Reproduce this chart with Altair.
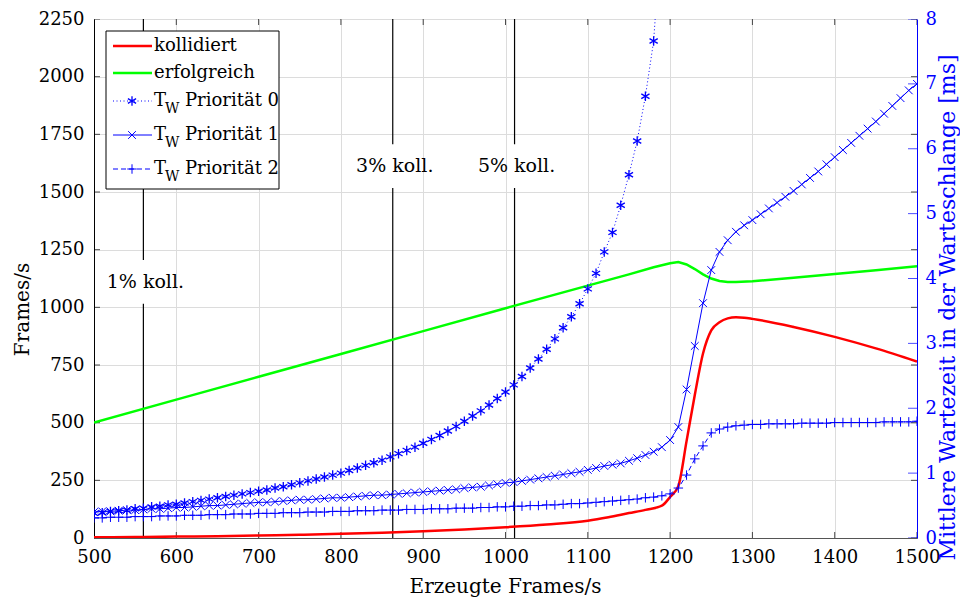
import altair as alt
import pandas as pd

FONT = "DejaVu Serif"
BLUE = "#0000ff"

# ---------------- data ----------------
x_ticks = [500, 600, 700, 800, 900, 1000, 1100, 1200, 1300, 1400, 1500]
yl_ticks = [0, 250, 500, 750, 1000, 1250, 1500, 1750, 2000, 2250]
yr_ticks = [0, 1, 2, 3, 4, 5, 6, 7, 8]

red_x = [500, 550, 600, 650, 700, 750, 800, 850, 900, 950, 1000, 1050, 1100, 1125, 1150,
         1170, 1190, 1200, 1210, 1220, 1230, 1240, 1250, 1260, 1270, 1280, 1290, 1300,
         1350, 1400, 1450, 1500]
red_v = [3, 4, 6, 8, 11, 14, 18, 23, 29, 37, 47, 59, 75, 90, 108,
         122, 140, 178, 225, 420, 620, 800, 900, 935, 952, 957, 955, 950,
         915, 872, 822, 765]

green_x = [500, 600, 700, 800, 900, 1000, 1100, 1150, 1180, 1200, 1210, 1220, 1230, 1240,
           1250, 1260, 1270, 1280, 1300, 1350, 1400, 1450, 1500]
green_v = [500, 600, 699, 798, 897, 996, 1094, 1143, 1174, 1191, 1196, 1186, 1166, 1143,
           1125, 1114, 1110, 1110, 1113, 1128, 1145, 1161, 1178]

p0_x = list(range(500, 1200, 10))
p0_v = [0.38, 0.39, 0.41, 0.42, 0.43, 0.45, 0.46, 0.48, 0.49, 0.51,
        0.52, 0.54, 0.56, 0.58, 0.60, 0.62, 0.64, 0.66, 0.68, 0.70,
        0.72, 0.74, 0.77, 0.79, 0.82, 0.85, 0.88, 0.91, 0.94, 0.97,
        1.00, 1.04, 1.08, 1.12, 1.16, 1.20, 1.25, 1.30, 1.35, 1.40,
        1.46, 1.52, 1.58, 1.65, 1.72, 1.80, 1.88, 1.96, 2.05, 2.15,
        2.25, 2.36, 2.49, 2.62, 2.76, 2.91, 3.07, 3.24, 3.41, 3.61,
        3.84, 4.08, 4.41, 4.71, 5.13, 5.60, 6.12, 6.81, 7.66, 9.50]

p_x = list(range(500, 1510, 10))
p1_v = [0.40, 0.41, 0.41, 0.42, 0.43, 0.43, 0.44, 0.45, 0.45, 0.46,
        0.47, 0.47, 0.48, 0.49, 0.50, 0.50, 0.51, 0.52, 0.53, 0.54,
        0.55, 0.55, 0.56, 0.57, 0.58, 0.59, 0.59, 0.60, 0.61, 0.62,
        0.62, 0.63, 0.64, 0.65, 0.66, 0.66, 0.67, 0.68, 0.69, 0.70,
        0.71, 0.72, 0.73, 0.74, 0.75, 0.77, 0.78, 0.79, 0.81, 0.83,
        0.85, 0.86, 0.88, 0.90, 0.92, 0.94, 0.96, 0.98, 1.00, 1.02,
        1.05, 1.08, 1.11, 1.13, 1.15, 1.19, 1.23, 1.28, 1.33, 1.40,
        1.51, 1.71, 2.29, 2.96, 3.62, 4.13, 4.41, 4.59, 4.72, 4.82,
        4.90, 4.99, 5.08, 5.17, 5.26, 5.35, 5.45, 5.55, 5.65, 5.76,
        5.87, 5.98, 6.09, 6.20, 6.31, 6.42, 6.54, 6.66, 6.78, 6.90,
        7.00]
p2_v = [0.31, 0.31, 0.32, 0.32, 0.32, 0.33, 0.33, 0.33, 0.34, 0.34,
        0.34, 0.35, 0.35, 0.35, 0.36, 0.36, 0.36, 0.37, 0.37, 0.37,
        0.38, 0.38, 0.38, 0.39, 0.39, 0.39, 0.40, 0.40, 0.40, 0.41,
        0.41, 0.41, 0.42, 0.42, 0.42, 0.43, 0.43, 0.43, 0.44, 0.44,
        0.44, 0.45, 0.45, 0.45, 0.46, 0.46, 0.46, 0.47, 0.47, 0.48,
        0.48, 0.49, 0.49, 0.50, 0.50, 0.51, 0.51, 0.52, 0.53, 0.53,
        0.54, 0.55, 0.56, 0.57, 0.58, 0.59, 0.60, 0.62, 0.63, 0.65,
        0.68, 0.77, 0.97, 1.22, 1.42, 1.62, 1.68, 1.71, 1.73, 1.74,
        1.75, 1.75, 1.76, 1.76, 1.76, 1.76, 1.77, 1.77, 1.77, 1.77,
        1.78, 1.78, 1.78, 1.78, 1.78, 1.78, 1.79, 1.79, 1.79, 1.79,
        1.80]

vline_x = [560, 863, 1011]
vline_label = ["1% koll.", "3% koll.", "5% koll."]
vline_label_y = [1110, 1612, 1612]
label_gap = 95

legend_names = ["kollidiert", "erfolgreich", "Priorität 0", "Priorität 1", "Priorität 2"]

# ---------------- shapes ----------------
SH_AST = "M0,-1L0,1M-0.866,-0.5L0.866,0.5M-0.866,0.5L0.866,-0.5"
SH_X = "M-1,-1L1,1M-1,1L1,-1"
SH_PLUS = "M-1,0L1,0M0,-1L0,1"

# ---------------- encodings ----------------
xs = alt.Scale(domain=[500, 1500], nice=False, zero=False)
x_axis = alt.Axis(values=x_ticks, format="d", grid=True, gridColor="#dcdcdc", ticks=False,
                  domainColor="#555555", labelFont=FONT, labelFontSize=18, labelColor="black",
                  labelPadding=10, labelFlush=False, labelOverlap=False,
                  title="Erzeugte Frames/s", titleFont=FONT, titleFontSize=20,
                  titleFontWeight="normal", titleColor="black",
                  titleX=411, titleY=48, titleAlign="center", titleBaseline="middle")
yls = alt.Scale(domain=[0, 2250], nice=False)
yl_axis = alt.Axis(values=yl_ticks, format="d", grid=True, gridColor="#dcdcdc", ticks=False,
                   domainColor="black", labelFont=FONT, labelFontSize=18, labelColor="black",
                   labelPadding=10, labelOverlap=False,
                   title="Frames/s", titleFont=FONT, titleFontSize=20,
                   titleFontWeight="normal", titleColor="black",
                   titleX=-72, titleY=290, titleAngle=270, titleAlign="center",
                   titleBaseline="middle")
yrs = alt.Scale(domain=[0, 8], nice=False)
yr_axis = alt.Axis(orient="right", values=yr_ticks, format="d", grid=False, ticks=False,
                   domainColor=BLUE, labelFont=FONT, labelFontSize=18, labelColor=BLUE,
                   labelPadding=8, labelOverlap=False,
                   title="Mittlere Wartezeit in der Warteschlange [ms]", titleFont=FONT,
                   titleFontSize=22, titleFontWeight="normal", titleColor=BLUE,
                   titleX=30, titleY=288, titleAngle=270, titleAlign="center",
                   titleBaseline="middle")


def X(f):
    return alt.X(f, type="quantitative", scale=xs, axis=x_axis)


def YL(f):
    return alt.Y(f, type="quantitative", scale=yls, axis=yl_axis)


def YR(f):
    return alt.Y(f, type="quantitative", scale=yrs, axis=yr_axis)


# ---------------- left-scale layers ----------------
df_red = pd.DataFrame({"x": red_x, "v": red_v})
df_green = pd.DataFrame({"x": green_x, "v": green_v})

red_line = alt.Chart(df_red).mark_line(color="#ff0000", strokeWidth=2.5, interpolate="monotone",
                                       clip=True).encode(x=X("x"), y=YL("v"))
green_line = alt.Chart(df_green).mark_line(color="#00ff00", strokeWidth=2.5,
                                           clip=True).encode(x=X("x"), y=YL("v"))

seg_rows = []
for xv, ly in zip(vline_x, vline_label_y):
    seg_rows.append({"x": xv, "y0": 0, "y1": ly - label_gap})
    seg_rows.append({"x": xv, "y0": ly + label_gap, "y1": 2250})
vrules = alt.Chart(pd.DataFrame(seg_rows)).mark_rule(color="black", strokeWidth=1.2).encode(
    x=X("x"), y=YL("y0"), y2="y1")
vlabels = alt.Chart(pd.DataFrame({"x": vline_x, "y": vline_label_y, "t": vline_label})).mark_text(
    font=FONT, fontSize=19, color="black", align="center", baseline="middle", dx=2).encode(
    x=X("x"), y=YL("y"), text="t:N")

tl = pd.DataFrame({"x": [500] * len(yl_ticks), "x2": [1500] * len(yl_ticks), "v": yl_ticks})
ticks_left = alt.Chart(tl).mark_tick(orient="horizontal", size=12, thickness=1, color="black",
                                     clip=True).encode(x=X("x"), y=YL("v"))
ticks_right_k = alt.Chart(tl).mark_tick(orient="horizontal", size=12, thickness=1, color="black",
                                        clip=True).encode(x=X("x2"), y=YL("v"))
tb = pd.DataFrame({"x": x_ticks, "y0": [0] * len(x_ticks), "y1": [2250] * len(x_ticks)})
ticks_bottom = alt.Chart(tb).mark_tick(orient="vertical", size=12, thickness=1, color="black",
                                       clip=True).encode(x=X("x"), y=YL("y0"))
ticks_top = alt.Chart(tb).mark_tick(orient="vertical", size=12, thickness=1, color="black",
                                    clip=True).encode(x=X("x"), y=YL("y1"))

left = alt.layer(ticks_left, ticks_right_k, ticks_bottom, ticks_top,
                 vrules, vlabels, green_line, red_line)

# ---------------- right-scale layers ----------------
df_p0 = pd.DataFrame({"x": p0_x, "v": p0_v})
df_p1 = pd.DataFrame({"x": p_x, "v": p1_v})
df_p2 = pd.DataFrame({"x": p_x, "v": p2_v})

p0_line = alt.Chart(df_p0).mark_line(color=BLUE, strokeWidth=1, strokeDash=[1, 2.5],
                                     clip=True).encode(x=X("x"), y=YR("v"))
p0_pts = alt.Chart(df_p0).mark_point(shape=SH_AST, size=90, color=BLUE, filled=False,
                                     strokeWidth=1.3, opacity=1, clip=True).encode(x=X("x"), y=YR("v"))
p1_line = alt.Chart(df_p1).mark_line(color=BLUE, strokeWidth=1, clip=True).encode(x=X("x"), y=YR("v"))
p1_pts = alt.Chart(df_p1).mark_point(shape=SH_X, size=60, color=BLUE, filled=False,
                                     strokeWidth=1, opacity=1, clip=True).encode(x=X("x"), y=YR("v"))
p2_line = alt.Chart(df_p2).mark_line(color=BLUE, strokeWidth=1, strokeDash=[5, 3],
                                     clip=True).encode(x=X("x"), y=YR("v"))
p2_pts = alt.Chart(df_p2).mark_point(shape=SH_PLUS, size=90, color=BLUE, filled=False,
                                     strokeWidth=1, opacity=1, clip=True).encode(x=X("x"), y=YR("v"))
tr = pd.DataFrame({"x": [1500] * len(yr_ticks), "v": yr_ticks})
ticks_right_b = alt.Chart(tr).mark_tick(orient="horizontal", size=18, thickness=1, color=BLUE,
                                        clip=True).encode(x=X("x"), y=YR("v"))

right = alt.layer(ticks_right_b, p2_line, p2_pts, p1_line, p1_pts, p0_line, p0_pts)

# ---------------- legend (drawn in pixel space) ----------------
one = pd.DataFrame({"a": [0]})
legend_layers = [
    alt.Chart(one).mark_rect(fill="white", stroke="black", strokeWidth=1).encode(
        x=alt.value(12), x2=alt.value(185), y=alt.value(12), y2=alt.value(170))
]
row_y = [27, 54, 82, 116, 150]
styles = [
    dict(color="#ff0000", strokeWidth=2.5),
    dict(color="#00ff00", strokeWidth=2.5),
    dict(color=BLUE, strokeWidth=1, strokeDash=[1, 2.5]),
    dict(color=BLUE, strokeWidth=1),
    dict(color=BLUE, strokeWidth=1, strokeDash=[5, 3]),
]
shapes = [None, None, (SH_AST, 90, 1.3), (SH_X, 60, 1), (SH_PLUS, 90, 1)]
for i, name in enumerate(legend_names):
    ry = row_y[i]
    legend_layers.append(alt.Chart(one).mark_rule(**styles[i]).encode(
        x=alt.value(19), x2=alt.value(58), y=alt.value(ry)))
    if shapes[i] is not None:
        sh, sz, sw = shapes[i]
        legend_layers.append(alt.Chart(one).mark_point(
            shape=sh, size=sz, color=BLUE, filled=False, strokeWidth=sw, opacity=1).encode(
            x=alt.value(38), y=alt.value(ry)))
        legend_layers.append(alt.Chart(one).mark_text(
            text="T", font=FONT, fontSize=18, color="black", align="left", baseline="middle").encode(
            x=alt.value(60), y=alt.value(ry)))
        legend_layers.append(alt.Chart(one).mark_text(
            text="W", font=FONT, fontSize=14, color="black", align="left", baseline="middle").encode(
            x=alt.value(71), y=alt.value(ry + 8)))
        legend_layers.append(alt.Chart(one).mark_text(
            text=name, font=FONT, fontSize=18, color="black", align="left", baseline="middle").encode(
            x=alt.value(91), y=alt.value(ry)))
    else:
        legend_layers.append(alt.Chart(one).mark_text(
            text=name, font=FONT, fontSize=18, color="black", align="left", baseline="middle").encode(
            x=alt.value(60), y=alt.value(ry)))

chart = alt.layer(left, right, *legend_layers).resolve_scale(y="independent").properties(
    width=823, height=519,
    autosize=alt.AutoSizeParams(type="none"),
    padding={"left": 86, "top": 11, "right": 43, "bottom": 60},
).configure_view(stroke="#555555", strokeWidth=1).configure(background="white")

chart.save("out.html", embed_options={"renderer": "svg", "actions": False})
